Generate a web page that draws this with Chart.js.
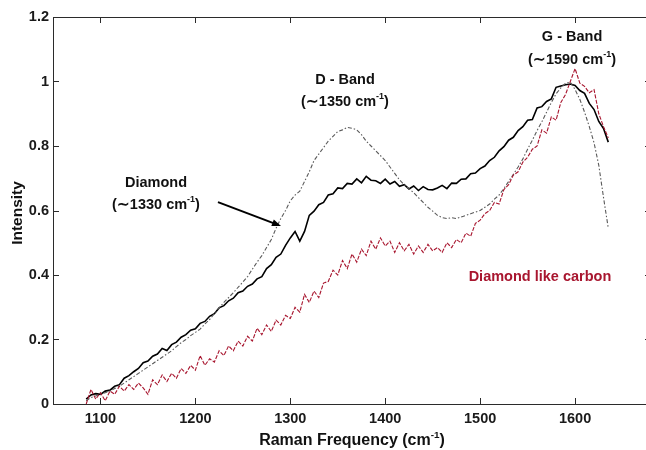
<!DOCTYPE html>
<html>
<head>
<meta charset="utf-8">
<script src="https://cdn.jsdelivr.net/npm/chart.js@4.4.1/dist/chart.umd.min.js"></script>
<style>
  html, body { margin: 0; padding: 0; background: #fff; overflow: hidden; }
  #wrap { width: 656px; height: 450px; }
</style>
</head>
<body>
<div id="wrap"><canvas id="chart1" width="656" height="450"></canvas></div>
<script>
// Raman shift (cm-1)
var freq = [1085,1090,1095,1100,1105,1110,1115,1120,1125,1130,1135,1140,1145,1150,1155,1160,1165,1170,1175,1180,
  1185,1190,1195,1200,1205,1210,1215,1220,1225,1230,1235,1240,1245,1250,1255,1260,1265,1270,1275,1280,
  1285,1290,1295,1300,1305,1310,1315,1320,1325,1330,1335,1340,1345,1350,1355,1360,1365,1370,1375,1380,
  1385,1390,1395,1400,1405,1410,1415,1420,1425,1430,1435,1440,1445,1450,1455,1460,1465,1470,1475,1480,
  1485,1490,1495,1500,1505,1510,1515,1520,1525,1530,1535,1540,1545,1550,1555,1560,1565,1570,1575,1580,
  1585,1590,1595,1600,1605,1610,1615,1620,1625,1630,1635];

// black solid curve
var blackSpec = [0.015,0.028,0.032,0.030,0.040,0.043,0.055,0.060,0.080,0.088,0.100,0.110,0.128,0.133,0.148,0.155,0.172,0.166,0.184,0.192,
  0.207,0.215,0.229,0.233,0.250,0.256,0.272,0.280,0.298,0.305,0.320,0.328,0.345,0.350,0.365,0.372,0.388,0.395,0.420,0.432,
  0.455,0.465,0.492,0.515,0.535,0.505,0.535,0.585,0.598,0.618,0.625,0.648,0.652,0.670,0.668,0.684,0.682,0.698,0.686,0.706,
  0.694,0.692,0.684,0.697,0.682,0.690,0.675,0.680,0.667,0.676,0.662,0.674,0.665,0.664,0.670,0.678,0.668,0.685,0.684,0.697,
  0.698,0.714,0.716,0.730,0.738,0.755,0.765,0.785,0.798,0.818,0.827,0.848,0.860,0.880,0.882,0.918,0.922,0.938,0.946,0.982,
  0.986,0.990,0.992,0.988,0.972,0.963,0.932,0.913,0.876,0.854,0.812];

// grey dash-dot curve
var greySpec = [0.010,0.020,0.025,0.030,0.035,0.040,0.048,0.055,0.065,0.075,0.085,0.095,0.105,0.115,0.125,0.135,0.145,0.155,0.165,0.178,
  0.190,0.200,0.212,0.222,0.232,0.248,0.262,0.280,0.298,0.315,0.330,0.345,0.362,0.378,0.395,0.418,0.440,0.460,0.485,0.510,
  0.545,0.575,0.600,0.630,0.648,0.660,0.690,0.720,0.755,0.775,0.795,0.815,0.830,0.845,0.850,0.858,0.855,0.850,0.835,0.815,
  0.800,0.785,0.770,0.755,0.735,0.715,0.695,0.680,0.668,0.655,0.640,0.625,0.610,0.598,0.585,0.578,0.575,0.578,0.575,0.580,
  0.585,0.590,0.595,0.600,0.610,0.620,0.635,0.648,0.668,0.690,0.712,0.735,0.760,0.790,0.818,0.848,0.875,0.905,0.935,0.962,
  0.980,0.995,0.998,0.975,0.945,0.905,0.860,0.810,0.740,0.640,0.545];

// diamond like carbon (red dashed)
var dlcSpec = [0.000,0.045,0.015,0.035,0.010,0.040,0.030,0.055,0.040,0.060,0.045,0.065,0.050,0.030,0.075,0.060,0.090,0.070,0.095,0.080,
  0.110,0.095,0.120,0.105,0.150,0.120,0.140,0.130,0.165,0.150,0.180,0.165,0.195,0.180,0.210,0.195,0.235,0.215,0.245,0.225,
  0.260,0.245,0.275,0.265,0.300,0.285,0.340,0.315,0.350,0.330,0.375,0.380,0.415,0.400,0.445,0.420,0.465,0.440,0.480,0.460,
  0.505,0.480,0.515,0.490,0.505,0.470,0.500,0.475,0.495,0.465,0.490,0.470,0.495,0.475,0.485,0.470,0.500,0.485,0.510,0.500,
  0.530,0.520,0.560,0.570,0.590,0.600,0.625,0.620,0.665,0.680,0.710,0.720,0.750,0.765,0.790,0.800,0.850,0.840,0.890,0.880,
  0.935,0.960,1.000,1.040,0.995,0.985,0.965,0.975,0.900,0.860,0.825];

var xTicks = [1100, 1200, 1300, 1400, 1500, 1600];
var yTicks = [0, 0.2, 0.4, 0.6, 0.8, 1, 1.2];

var FONT = '"Liberation Sans", Arial, Helvetica, sans-serif';
var RED = '#a8162f';

// text notes placed in data coordinates
var notes = [
  { x: 1357.6, y: 1.005, parts: [{ t: 'D - Band' }] },
  { x: 1357.6, y: 0.936, parts: [{ t: '(\u223c1350 cm' }, { t: '-1', sup: true }, { t: ')' }] },
  { x: 1596.8, y: 1.138, parts: [{ t: 'G - Band' }] },
  { x: 1596.8, y: 1.067, parts: [{ t: '(\u223c1590 cm' }, { t: '-1', sup: true }, { t: ')' }] },
  { x: 1158.5, y: 0.685, parts: [{ t: 'Diamond' }] },
  { x: 1158.5, y: 0.617, parts: [{ t: '(\u223c1330 cm' }, { t: '-1', sup: true }, { t: ')' }] },
  { x: 1563, y: 0.394, parts: [{ t: 'Diamond like carbon' }], color: RED }
];
var arrowFrom = { x: 1223.8, y: 0.626 };
var arrowTo = { x: 1290.2, y: 0.552 };

function pts(ys) {
  return freq.map(function (f, i) { return { x: f, y: ys[i] }; });
}

function richText(ctx, parts, cx, cy, size, color) {
  var w = 0;
  parts.forEach(function (p) {
    ctx.font = 'bold ' + (p.sup ? size * 0.62 : size) + 'px ' + FONT;
    w += ctx.measureText(p.t).width;
  });
  var x = cx - w / 2;
  ctx.textAlign = 'left';
  ctx.textBaseline = 'middle';
  ctx.fillStyle = color;
  parts.forEach(function (p) {
    ctx.font = 'bold ' + (p.sup ? size * 0.62 : size) + 'px ' + FONT;
    ctx.fillText(p.t, x, p.sup ? cy - size * 0.36 : cy);
    x += ctx.measureText(p.t).width;
  });
}

var framePlugin = {
  id: 'frame',
  afterDraw: function (chart) {
    var ctx = chart.ctx, a = chart.chartArea;
    var xs = chart.scales.x, ys = chart.scales.y;
    ctx.save();
    ctx.strokeStyle = '#2b2b2b';
    ctx.lineWidth = 1;
    ctx.strokeRect(a.left + 0.5, a.top + 0.5, a.right - a.left, a.bottom - a.top);
    ctx.beginPath();
    xTicks.forEach(function (v) {
      var px = Math.round(xs.getPixelForValue(v)) + 0.5;
      ctx.moveTo(px, a.bottom); ctx.lineTo(px, a.bottom - 6);
      ctx.moveTo(px, a.top); ctx.lineTo(px, a.top + 6);
    });
    yTicks.forEach(function (v) {
      var py = Math.round(ys.getPixelForValue(v)) + 0.5;
      ctx.moveTo(a.left, py); ctx.lineTo(a.left + 6, py);
      ctx.moveTo(a.right, py); ctx.lineTo(a.right - 6, py);
    });
    ctx.stroke();

    // notes
    notes.forEach(function (n) {
      richText(ctx, n.parts, xs.getPixelForValue(n.x), ys.getPixelForValue(n.y), 14.5, n.color || '#111');
    });

    // arrow
    var x1 = xs.getPixelForValue(arrowFrom.x), y1 = ys.getPixelForValue(arrowFrom.y);
    var x2 = xs.getPixelForValue(arrowTo.x), y2 = ys.getPixelForValue(arrowTo.y);
    var ang = Math.atan2(y2 - y1, x2 - x1);
    ctx.strokeStyle = '#000';
    ctx.fillStyle = '#000';
    ctx.lineWidth = 2;
    ctx.beginPath();
    ctx.moveTo(x1, y1);
    ctx.lineTo(x2 - 6 * Math.cos(ang), y2 - 6 * Math.sin(ang));
    ctx.stroke();
    ctx.beginPath();
    ctx.moveTo(x2, y2);
    ctx.lineTo(x2 - 9 * Math.cos(ang) + 3.5 * Math.sin(ang), y2 - 9 * Math.sin(ang) - 3.5 * Math.cos(ang));
    ctx.lineTo(x2 - 9 * Math.cos(ang) - 3.5 * Math.sin(ang), y2 - 9 * Math.sin(ang) + 3.5 * Math.cos(ang));
    ctx.closePath();
    ctx.fill();

    // axis titles
    richText(ctx, [{ t: 'Raman Frequency (cm' }, { t: '-1', sup: true }, { t: ')' }], 352, 441, 16, '#111');
    ctx.translate(18, 213);
    ctx.rotate(-Math.PI / 2);
    richText(ctx, [{ t: 'Intensity' }], 0, 0, 15.5, '#111');
    ctx.restore();
  }
};

var data = {
  datasets: [{
    label: 'black',
    data: pts(blackSpec),
    borderColor: '#000',
    borderWidth: 1.6,
    order: 3
  }, {
    label: 'grey',
    data: pts(greySpec),
    borderColor: '#5a5a5a',
    borderWidth: 1.1,
    borderDash: [4, 2, 1.5, 2],
    order: 2
  }, {
    label: 'Diamond like carbon',
    data: pts(dlcSpec),
    borderColor: RED,
    borderWidth: 1.1,
    borderDash: [4, 1.5],
    order: 1
  }]
};

var config = {
  type: 'line',
  data: data,
  options: {
    responsive: false,
    animation: false,
    // canvas is a bit wider than the window so the right side of the box is cut off like the original
    layout: { padding: { top: 17, right: 5, left: 0, bottom: 0 } },
    elements: { point: { radius: 0 }, line: { tension: 0 } },
    plugins: { legend: { display: false }, tooltip: { enabled: false } },
    scales: {
      x: {
        type: 'linear',
        min: 1050,
        max: 1680,
        grid: { display: false, drawTicks: false },
        border: { display: false },
        afterBuildTicks: function (s) { s.ticks = xTicks.map(function (v) { return { value: v }; }); },
        afterFit: function (s) { s.height = 46; },
        ticks: {
          padding: 6,
          maxRotation: 0,
          color: '#1a1a1a',
          font: { family: FONT, size: 14.5, weight: 'bold' },
          callback: function (v) { return String(v); }
        }
      },
      y: {
        min: 0,
        max: 1.2,
        grid: { display: false, drawTicks: false },
        border: { display: false },
        afterBuildTicks: function (s) { s.ticks = yTicks.map(function (v) { return { value: v }; }); },
        afterFit: function (s) { s.width = 53; },
        ticks: {
          padding: 4,
          color: '#1a1a1a',
          font: { family: FONT, size: 14.5, weight: 'bold' },
          callback: function (v) { return String(v); }
        }
      }
    }
  },
  plugins: [framePlugin]
};

var myChart = new Chart(document.getElementById('chart1'), config);
</script>
</body>
</html>
